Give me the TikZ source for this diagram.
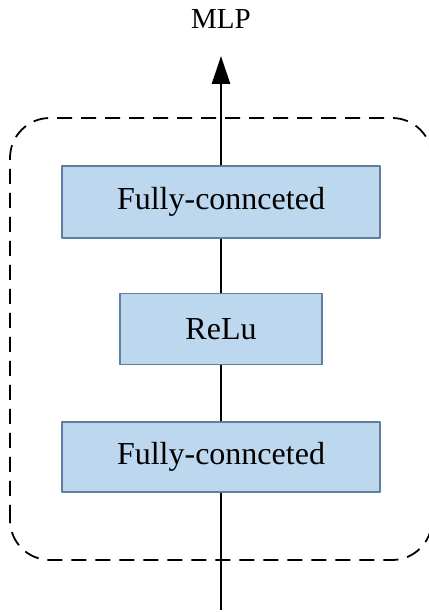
\documentclass[tikz,border=0pt]{standalone}
\usepackage{fontspec}
\setmainfont{Liberation Serif}
\usetikzlibrary{arrows.meta, positioning}

\definecolor{boxfill}{RGB}{189,215,238}
\definecolor{boxline}{RGB}{96,126,162}

\begin{document}
\begin{tikzpicture}[x=1pt, y=1pt, line join=round,
    layer/.style={draw=boxline, fill=boxfill, line width=1.8pt, inner sep=0pt,
      font=\fontsize{32}{38}\selectfont},
    flow/.style={line width=2.6pt}]
      \useasboundingbox (0,0) rectangle (428,612);
      % outer dashed frame
      \draw[line width=1.8pt, dash pattern=on 15pt off 9pt, rounded corners=40pt]
        (10,52) rectangle (432,494);
      \coordinate (in) at (221,2);
      \coordinate (out) at (221,556);
      \node[layer, minimum width=318pt, minimum height=70pt] (fc1) at (221,155) {Fully-connceted};
      \node[layer, minimum width=202pt, minimum height=71pt] (relu) at (221,283) {ReLu};
      \node[layer, minimum width=318pt, minimum height=72pt] (fc2) at (221,410) {Fully-connceted};
      \node[font=\fontsize{29}{34}\selectfont] (mlp) at (221,593) {MLP};
      \draw[flow] (in) -- (fc1.south);
      \draw[flow] (fc1.north) -- (relu.south);
      \draw[flow] (relu.north) -- (fc2.south);
      \draw[flow, -{Triangle[length=28pt, width=18pt]}] (fc2.north) -- (out);
\end{tikzpicture}
\end{document}
